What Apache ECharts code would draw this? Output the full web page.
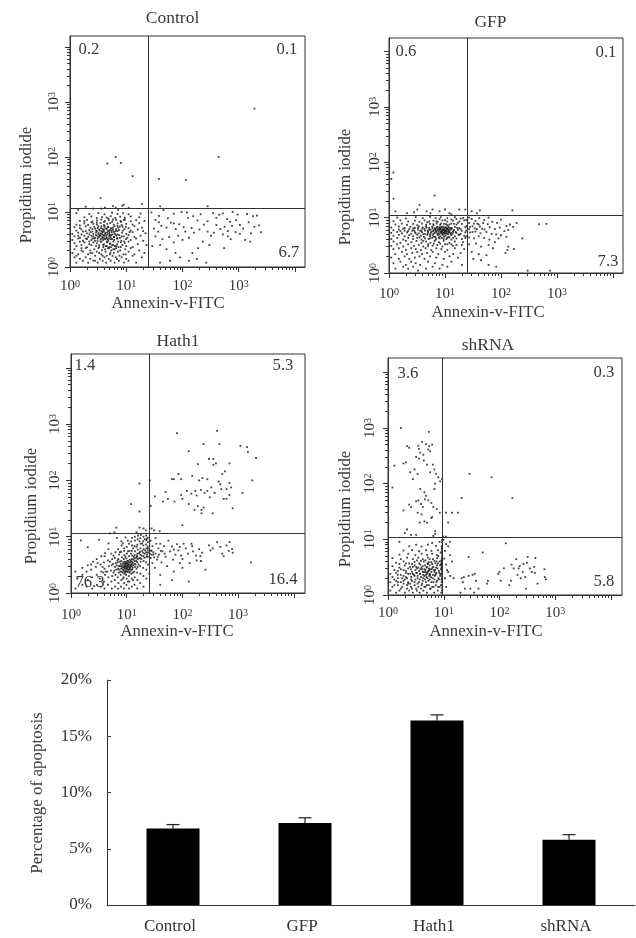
<!DOCTYPE html><html><head><meta charset="utf-8">
<style>html,body{margin:0;background:#fff}#c{width:636px;height:938px;filter:blur(.4px)}</style>
<script src="https://cdn.jsdelivr.net/npm/echarts@6/dist/echarts.min.js"></script></head><body><div id="c"></div>
<script>
const controlPoints=[[1.3,1.2],[1.7,1.3],[2.1,1.2],[2.6,1.3],[3.1,1.2],[3.8,1.3],[4.4,1.2],[5.3,1.3],[6.2,1.2],[7.4,1.3],[9.1,1.2],[11,1.3],[15,1.2],
[1.2,1.5],[1.5,1.4],[1.9,1.5],[2.3,1.4],[2.8,1.6],[3.4,1.4],[4.1,1.5],[4.9,1.4],[5.7,1.6],[6.8,1.4],[8.3,1.5],[10,1.4],[13,1.6],[19,1.5],
[1.1,1.8],[1.4,1.7],[1.7,1.9],[2.1,1.7],[2.5,1.8],[3,1.9],[3.6,1.7],[4.3,1.9],[5.1,1.7],[6,1.8],[7.1,1.9],[8.9,1.7],[11,1.9],[14,1.7],[21,1.8],
[1.2,2.1],[1.6,2],[1.9,2.2],[2.3,2],[2.7,2.1],[3.2,2.2],[3.7,2],[4.2,2.1],[4.7,2.2],[5.4,2],[5.9,2.1],[6.6,2.2],[7.8,2],[9.6,2.1],[12,2.2],[17,2],
[1.3,2.4],[1.6,2.5],[2,2.3],[2.4,2.5],[2.9,2.4],[3.3,2.3],[3.9,2.5],[4.5,2.4],[5,2.3],[5.6,2.5],[6.3,2.4],[7.3,2.3],[8.5,2.5],[10,2.4],[13,2.3],[23,2.5],
[1.2,2.7],[1.5,2.9],[1.8,2.8],[2.2,2.6],[2.6,2.8],[3,2.7],[3.5,2.9],[4,2.6],[4.6,2.8],[5.2,2.7],[5.9,2.9],[6.9,2.6],[8,2.8],[9.4,2.7],[11,2.9],[16,2.6],
[1.1,3.1],[1.4,3.3],[1.7,3],[2,3.2],[2.4,3.1],[2.7,3.3],[3.1,3],[3.5,3.2],[3.9,3.1],[4.4,3.3],[4.8,3],[5.3,3.2],[6.1,3.1],[7,3.3],[8.2,3],[9.9,3.2],[12,3.1],[15,3.3],[20,3],
[1.2,3.6],[1.5,3.4],[1.8,3.7],[2.1,3.5],[2.4,3.7],[2.8,3.4],[3.1,3.6],[3.4,3.8],[3.8,3.5],[4.1,3.7],[4.5,3.4],[4.9,3.6],[5.4,3.8],[6,3.5],[6.7,3.7],[7.7,3.4],[9,3.6],[11,3.8],[14,3.5],[18,3.7],
[1.1,4],[1.4,4.2],[1.6,3.9],[2,4.1],[2.3,4.3],[2.6,4],[2.9,4.2],[3.2,3.9],[3.5,4.1],[3.8,4.3],[4.2,4],[4.6,4.2],[5,4],[5.5,4.3],[6.2,4.1],[7,3.9],[8.4,4.2],[10,4],[13,4.3],[22,4.1],
[1.3,4.6],[1.6,4.8],[1.9,4.5],[2.2,4.7],[2.5,4.9],[2.9,4.6],[3.3,4.8],[3.7,4.5],[4,4.7],[4.5,4.9],[5,4.6],[5.8,4.8],[6.5,4.5],[7.5,4.7],[9.3,4.9],[12,4.6],[16,4.8],[20,4.5],
[1.2,5.3],[1.5,5.1],[1.9,5.5],[2.3,5.2],[2.7,5.4],[3.1,5.1],[3.6,5.5],[4.1,5.2],[4.7,5.4],[5.4,5.1],[6.2,5.5],[7.2,5.2],[8.6,5.4],[11,5.1],[14,5.5],[19,5.2],
[1.3,5.9],[1.8,6.2],[2.1,5.8],[2.6,6.1],[3,5.9],[3.5,6.3],[4,5.8],[4.6,6.1],[5.2,6.3],[6,5.9],[7,6.2],[8.3,5.8],[10,6.1],[13,5.9],[17,6.3],
[1.5,6.9],[2,7.2],[2.5,6.7],[3,7],[3.6,7.3],[4.2,6.8],[4.9,7.1],[5.6,6.7],[6.6,7.2],[7.9,6.9],[9.5,7.3],[12,6.8],[15,7.1],[21,6.9],
[1.8,8],[2.4,8.3],[3,7.8],[3.7,8.1],[4.5,7.9],[5.3,8.4],[6.4,7.8],[7.8,8.2],[9.4,7.9],[12,8.3],[17,8],
[1.3,9.5],[2.2,9.2],[3.2,9.6],[4.1,9.1],[5.6,9.7],[7,9.2],[8.8,9.5],[11,9.1],[18,9.4],
[1.4,11],[1.9,12.5],[3.6,11.5],[4.2,12],[5.8,12.8],[6.5,12],[8.5,13],[9,13.6],[11,12],[19,14],[6.5,100],[8,78],[4.6,76],[13,45],[3.5,18],[2.6,11.5],[7.2,11],
[28,9.8],[38,8.5],[46,10.8],[33,7.2],[55,7.7],[70,9.3],[96,10],[62,6.4],[42,5.6],[31,5],[37,4.4],[52,5.2],[76,4.9],[88,6],[105,5.3],[125,7.8],[155,8.4],[185,7],[145,5.1],[112,4.4],[84,3.7],[58,3.5],[44,3.2],[33,3.6],[29,2.4],[40,2.5],[52,2.1],[70,2.8],[100,3.1],[130,3.4],[160,4.2],[200,4.8],[240,5.9],[280,4.4],[320,3.7],[230,2.9],[190,2.2],[150,1.8],[130,1.3],[180,1.4],[90,1.5],[60,1.3],[40,1.2],[75,1.8],[300,2.5],[265,1.2],[350,9.5],[400,7.8],[450,8.9],[520,9.4],[620,7.4],[780,10],[950,9],[900,7.1],[700,6.6],[560,5.4],[470,4.9],[400,5.8],[360,4.2],[520,3.9],[640,4.5],[760,5.6],[880,4.3],[1050,5.8],[1200,5],[1400,9.2],[1800,8.4],[2100,8.6],[1500,6.5],[1900,5.4],[2300,5.7],[2500,4.3],[1650,4.1],[1300,3.1],[1050,4],[720,3.2],[640,3.6],[550,2.2],[1600,2.9],[280,6.8],[210,9.1],[120,9.8],[70,6.2],[38,6.5],
[38,40],[115,38],[440,100],[1900,760],[40,12.7],[280,12.7]];
const controlCore=[[1.4,3.7],[1.7,4.4],[1.9,3.3],[2.2,3.9],[2.2,2.9],[2.5,4.4],[2.5,3.3],[2.6,3.6],[2.8,5],[2.8,3],[2.9,3.8],[3,4.5],[3.1,3.3],[3.2,5.5],[3.2,4.2],[3.3,2.5],[3.3,3.5],[3.4,4.6],[3.5,3.7],[3.6,5.1],[3.6,2.9],[3.7,4],[3.7,3.3],[3.8,4.9],[3.9,3.8],[3.9,2.3],[4,4.4],[4,3.4],[4.1,5.6],[4.2,3.2],[4.3,4.2],[4.3,2.4],[4.4,3.7],[4.4,5],[4.5,2.9],[4.6,3.9],[4.7,4.5],[4.7,3.2],[4.8,5.3],[4.9,2.2],[5,3.3],[5,4.3],[5.1,3.8],[5.1,2.6],[5.2,4.8],[5.3,3.5],[5.4,2.3],[5.5,4.6],[5.6,3.2],[5.7,3.9],[5.8,5.2],[5.9,2.5],[6,4.4],[6.1,3.5],[6.2,2.1],[6.4,3.9],[6.6,4.9],[6.7,2.4],[6.8,3.3],[7,4.5],[7.2,2.9],[7.5,3.8],[7.7,5.4],[8,2.3],[8.3,3.6],[8.7,4.6],[9.2,2.9],[9.8,5.4],[10.5,3.4],[11.5,4.3],[1.3,1.6],[1.6,2.2],[1.5,5.7],[1.8,6.8],[2.3,1.8],[2.4,6.5],[2.8,1.3],[3,6.4],[3.3,1.8],[3.8,1.6],[4,6.6],[4.5,1.6],[4.8,7.6],[5.2,1.8],[5.8,7.3],[6.5,1.5],[7,5.6],[7.6,1.6],[8.1,6.6],[9,7.2],[9.8,1.7]];
const gfpPoints=[[1.3,1.2],[1.8,1.3],[2.2,1.2],[2.7,1.3],[3.3,1.1],[4.6,1.2],[6,1.3],[8,1.2],[11,1.3],[1.2,1.5],[1.6,1.6],[2,1.4],[2.5,1.6],[3,1.5],[3.6,1.4],[5,1.6],[6.6,1.5],[9,1.4],[13,1.6],[20,1.4],[1.1,1.9],[1.5,1.8],[1.9,2],[2.3,1.8],[2.9,1.9],[3.5,2],[4.3,1.8],[5.4,2],[7,1.9],[9.5,1.8],[12,2],[17,1.9],[1.3,2.2],[1.7,2.4],[2.1,2.2],[2.6,2.3],[3.2,2.4],[3.9,2.2],[4.8,2.3],[6,2.4],[7.6,2.2],[10,2.4],[14,2.2],[19,2.3],[1.2,2.7],[1.5,2.8],[2,2.6],[2.5,2.8],[3,2.7],[3.7,2.6],[4.5,2.8],[5.7,2.6],[7,2.8],[8.6,2.7],[11,2.6],[15,2.8],[22,2.7],[1.1,3.1],[1.4,3.3],[1.8,3],[2.2,3.3],[2.8,3.1],[3.4,3.2],[4.1,3],[5,3.3],[6,3.1],[7.3,3.2],[9,3],[11,3.3],[14,3.1],[20,3.2],[1.2,3.7],[1.6,3.5],[2,3.8],[2.5,3.6],[3.1,3.8],[3.8,3.5],[4.6,3.7],[5.5,3.5],[6.5,3.8],[7.8,3.6],[9.5,3.8],[12,3.5],[15,3.7],[21,3.6],[1.1,4.1],[1.4,4.3],[1.8,4],[2.2,4.3],[2.7,4.1],[3.2,4.3],[3.8,4],[4.4,4.2],[5.1,4.1],[5.9,4.3],[6.8,4],[8,4.2],[9.5,4.1],[11,4.3],[13,4],[16,4.2],[20,4.1],[23,4.3],[1.2,4.7],[1.5,4.9],[1.9,4.6],[2.3,4.8],[2.7,4.6],[3.2,4.9],[3.7,4.7],[4.2,4.5],[4.8,4.9],[5.4,4.6],[6,4.8],[6.7,4.5],[7.5,4.8],[8.3,4.6],[9.2,4.9],[10.2,4.7],[11.5,4.5],[13,4.8],[15,4.6],[18,4.9],[22,4.7],[1.1,5.3],[1.4,5.5],[1.7,5.2],[2.1,5.4],[2.5,5.1],[2.9,5.5],[3.4,5.2],[3.9,5.4],[4.4,5.1],[5,5.5],[5.6,5.3],[6.2,5.1],[6.9,5.5],[7.6,5.2],[8.3,5.4],[9,5.1],[9.8,5.5],[10.6,5.2],[11.5,5.4],[12.5,5.1],[14,5.5],[16,5.3],[19,5.1],[23,5.4],[1.2,5.9],[1.5,6.1],[1.9,5.8],[2.3,6.2],[2.8,5.9],[3.3,6.1],[3.8,5.7],[4.3,6.2],[4.9,5.8],[5.5,6.1],[6.1,5.7],[6.8,6.2],[7.4,5.9],[8,6.2],[8.7,5.7],[9.3,6],[10,5.8],[10.8,6.2],[11.6,5.9],[12.6,6.1],[14,5.7],[17,6],[20,5.8],[1.1,6.6],[1.5,6.9],[1.9,6.5],[2.4,6.8],[2.9,6.5],[3.4,6.9],[4,6.6],[4.6,6.9],[5.2,6.5],[5.9,6.8],[6.6,6.4],[7.3,6.8],[8.2,6.5],[9.1,6.9],[10.2,6.6],[11.5,6.9],[13,6.5],[15,6.8],[18,6.5],[23,6.7],[1.3,7.5],[1.7,7.8],[2.1,7.4],[2.7,7.7],[3.2,7.3],[3.9,7.8],[4.6,7.4],[5.4,7.7],[6.2,7.3],[7.1,7.8],[8.2,7.4],[9.6,7.7],[11,7.3],[13,7.8],[16,7.5],[20,7.7],[1.2,8.6],[1.6,8.9],[2.2,8.5],[2.9,8.8],[3.5,8.4],[4.3,8.9],[5.2,8.5],[6.2,8.8],[7.4,8.4],[9,8.9],[11,8.5],[14,8.8],[18,8.5],[22,8.9],[1.4,10],[2,9.7],[3,10.2],[4,9.8],[5.4,10.3],[6.8,9.8],[8.4,10.2],[11,9.8],[15,10.2],[21,9.9],
[1.3,13],[2.1,12],[2.8,12.5],[3.5,17],[3.2,14],[4.7,13],[6.5,25],[6,14],[5.5,12],[8,13],[10,14],[12,12],[13,11.5],[18,14],[23,14],[1.2,22],[1.2,65],[1.1,50],[30,13],[37,12],[42,13.5],[160,13.5],
[27,10],[30,9.4],[35,8.7],[41,9.8],[50,9],[60,10],[27,8],[33,7.8],[40,7.5],[48,8],[58,7.6],[70,8.4],[85,8],[100,9.2],[125,7],[145,7.5],[190,8],[28,6.8],[34,6.4],[42,6.9],[51,6.1],[63,6.7],[78,6.2],[95,6.6],[115,5.7],[135,6],[165,6.8],[28,5.4],[35,5.6],[43,5.2],[55,5.5],[68,5.1],[82,5],[100,4.8],[125,4.5],[240,4.2],[27,4.4],[33,4.2],[40,4.6],[50,4.3],[62,4],[78,3.6],[90,4.2],[27,3.3],[36,3.4],[44,3],[60,3.2],[72,2.8],[135,3],[130,2.6],[170,2.7],[30,2.4],[40,2.2],[55,2.1],[120,2.3],[32,1.8],[44,1.7],[60,1.4],[82,1.3],[480,7.6],[650,7.7],[300,1.1],[750,1.1]];
const gfpCore=[[5.7,5.6],[6,6.4],[6.3,5.9],[6.5,5.3],[6.7,6],[7,5.7],[7.1,6.6],[7.3,5.1],[7.5,6.2],[7.7,5.6],[7.9,6.7],[8,5],[8.1,5.9],[8.4,6.3],[8.5,5.5],[8.6,6.8],[8.8,5.2],[8.9,6],[9,5.6],[9.2,6.4],[9.4,5.3],[9.5,5.9],[9.7,6.6],[9.9,5.1],[10,6.1],[10.2,5.5],[10.3,6.7],[10.5,5.8],[10.7,5.1],[10.9,6.4],[11,5.6],[11.2,6.1],[11.4,5],[11.6,6.5],[11.8,5.5],[12.1,5.8],[12.4,6.5],[12.8,5.3],[13.2,6.3],[13.6,5.1],[14.5,6],[15.5,5.5],[16.5,6.5],[17.5,4.9],[19,6.2],[3,5.2],[3.3,6.5],[3.6,5.8],[3.9,6.3],[4.1,5],[4.4,5.8],[4.7,6.6],[5,5.2],[5.2,6],[5.4,4.9],[1.6,5.7],[1.8,6.3],[2.2,5.7],[2.6,5.8],[2.7,6.4],[3.5,4.4],[4.1,3.8],[5.4,4.2],[6.3,4.5],[7,4.2],[7.8,4.4],[8.8,4.3],[9.7,4.5],[10.6,4.1],[12,4.4],[14,4.3],[5,3.1],[6.3,3.4],[8.2,3.4],[10,3.3],[13,3.3],[16,3.2],[6.2,7.6],[8.5,7.8],[10.4,7.6],[12,7.5],[14.5,7.7],[17,8],[4.8,8.2],[7,8.6],[8,9.4],[10,9],[13,9.2],[16,9.4],[19,9.6],[24,9],[24,7],[24,5.8],[24,4.6],[27,6.2],[31,7],[37,6.2],[46,6.3],[38,7.8],[31,5.5]];
const hathPoints=[[1.2,1.2],[1.3,1.8],[1.2,2.4],[1.6,1.4],[1.6,2.1],[1.6,2.8],[1.9,1.3],[2,1.7],[1.9,2.4],[2,3.1],[2.4,1.2],[2.4,1.9],[2.3,2.6],[2.5,3.6],[2.9,1.4],[2.9,2.1],[2.8,2.9],[2.9,4],[3.4,1.3],[3.3,1.8],[3.5,2.4],[3.4,3.2],[3.5,4.5],[4,1.2],[3.9,1.6],[4.1,2.1],[4,2.7],[3.9,3.5],[4.1,5.1],[4.6,1.4],[4.7,1.9],[4.5,2.4],[4.8,3],[4.6,3.8],[4.7,6],[5.4,1.2],[5.3,1.6],[5.5,2],[5.2,2.5],[5.4,3.1],[5.5,4],[5.3,5],[6.2,1.3],[6.1,1.7],[6.3,2.1],[6,2.5],[6.2,2.9],[6.4,3.4],[6.1,4.2],[6.3,5.3],[7,1.2],[7.1,1.5],[6.9,1.9],[7.2,2.3],[7,2.7],[7.2,3],[6.9,3.5],[7.1,4],[7.3,4.8],[7,6],[7.9,1.3],[8,1.7],[7.8,2.1],[8.1,2.4],[7.9,2.7],[8.1,3],[7.8,3.3],[8,3.7],[8.2,4.3],[7.9,5.4],[8.1,7],[8.9,1.2],[9,1.5],[8.8,1.9],[9.1,2.2],[8.9,2.5],[9.1,2.8],[8.8,3],[9,3.3],[9.2,3.6],[8.9,4],[9.1,4.7],[9,6.2],[9.9,1.4],[10,1.8],[9.8,2.1],[10.1,2.4],[9.9,2.7],[10.1,2.9],[9.8,3.1],[10,3.4],[10.2,3.7],[9.9,4.1],[10.1,5],[10,6.6],[11,1.2],[11.1,1.6],[10.9,2],[11.2,2.3],[11,2.6],[11.2,2.9],[10.9,3.2],[11.1,3.5],[11.3,3.9],[11,4.5],[11.2,5.6],[11,7.5],[12.3,1.3],[12.4,1.8],[12.2,2.2],[12.5,2.6],[12.3,3],[12.5,3.3],[12.2,3.6],[12.4,4],[12.6,4.6],[12.3,5.6],[12.5,7],[13.8,1.4],[13.9,1.9],[13.7,2.4],[14,2.9],[13.8,3.3],[14,3.7],[13.7,4.1],[13.9,4.7],[14.1,5.5],[13.8,6.8],[14,8.5],[15.5,1.2],[15.6,1.7],[15.4,2.3],[15.7,2.9],[15.5,3.5],[15.7,4],[15.4,4.4],[15.6,5],[15.8,5.9],[15.5,7.2],[15.7,9],[17.5,1.5],[17.6,2.2],[17.4,3],[17.7,3.6],[17.5,4.2],[17.7,4.8],[17.4,5.4],[17.6,6.2],[17.8,7.5],[17.5,9.4],[20,1.3],[20,2],[19.8,2.8],[20.1,3.7],[20,4.5],[19.8,5.2],[20.1,6],[20,7],[19.8,8.3],[20,10],[22.5,1.8],[22.5,2.6],[22.3,3.5],[22.6,4.4],[22.4,5.3],[22.6,6.2],[22.3,7.3],[22.5,8.7],[22.3,10.5],[24,3.2],[24,4.4],[24,5.2],[24,5.7],[23.8,6.7],[24,8],[24,9.6],[2,6.5],[3.2,8.8],[4.7,7.6],[6.7,9.5],[8,8.3],[9.5,9.7],[12.5,9.5],[1.5,8.6],
[6.5,14.5],[17,14.5],[20,14],[22,13],[15,12],[6,12],[17,88],[12,38],[17,28],[5,11.5],
[27,8.5],[29,6.8],[27,5.6],[28,4.8],[30,5.3],[31,4.3],[29,3.4],[32,2.8],[35,3.9],[37,6.2],[33,9.5],[38,4.8],[40,7.5],[42,3.5],[44,5.5],[47,6.8],[50,4.4],[53,3],[56,8.5],[60,5.5],[65,6.7],[68,3.9],[75,4.8],[80,7.4],[85,5.7],[90,3.4],[95,4.6],[105,7.5],[115,6.2],[125,5],[135,3.4],[145,7.5],[155,5.5],[175,4.6],[200,6],[210,4.5],[215,3.7],[225,5.2],[260,2.6],[300,7],[320,5.7],[350,6.2],[420,8],[480,6.6],[520,5],[550,4.5],[620,7],[680,5.6],[700,8],[780,6],[800,5.2],[1700,3.5],[40,1.4],[65,1.7],[130,1.6],[40,2.1],[70,2.4],[100,2.8],[25.5,2.2],[100,4],[180,3.8],[34,7.5],[48,5],[70,5.9],[150,6.8],[90,6.6],
[28,14],[31,13],[39,12.5],[100,16],[27,35],[26,100],[32,52],[45,42],[55,47],[50,62],[72,42],[95,55],[100,47],[120,65],[130,38],[145,58],[165,30],[190,35],[220,30],[240,33],[220,26],[170,65],[180,54],[215,68],[250,60],[280,65],[310,50],[350,26],[380,60],[450,95],[500,70],[550,47],[620,47],[700,55],[620,70],[800,32],[1200,60],[65,105],[70,105],[85,130],[95,105],[150,120],[200,100],[230,110],[280,105],[330,75],[360,190],[400,200],[480,85],[520,130],[580,145],[700,90],[750,75],[1100,410],[1450,390],[1500,320],[2100,250],[1800,100],[80,690],[420,760],[240,440],[460,440],[130,330],[190,195],[300,240],[360,240],[700,200]];
const hathCore=[[7.3,2.6],[7.6,3],[7.7,2.4],[8.3,2.8],[8.4,3.2],[8.5,2.3],[8.6,3.5],[8.6,2.6],[8.9,2.9],[9.3,2.4],[9.3,3.1],[9.4,2.7],[9.5,3.5],[9.6,2.9],[9.6,3.3],[9.7,2.5],[10.3,2.7],[10.3,3.1],[10.4,3.4],[10.5,2.4],[10.6,2.9],[10.6,3.7],[10.7,2.6],[10.7,3.2],[11.4,2.7],[11.5,3.1],[11.6,2.4],[11.6,3.5],[11.7,2.9],[11.8,3.8],[12,2.6],[12,3.2],[12.8,2.8],[12.9,3.5],[13,2.3],[13.1,3.1],[13.2,3.9],[13.4,4.4],[14.4,3.2],[14.6,4.2],[15,2.7],[15,3.7],[15.2,4.6],[16.3,3.2],[16.5,4.1],[16.7,5.1],[18.3,4],[18.6,4.6],[19,5.6],[20.8,4.2],[21,5],[21.5,5.7],[23,4.8],[24,6.2],[26,5],[27,4.2],[28,5.7],[30,4.8],[33,5],[36,4.4],[41,5.6],[5.8,2.3],[5.7,3.3],[6.5,2.6],[6.6,3.1],[6.8,3.8],[7.5,3.6],[4.2,2.4],[3.7,2.9],[5,3.6],[5.8,4.6],[7.5,5.3],[9.5,4.4],[10.5,5.5],[12,5],[13,6.2],[15,6.6],[17,8.3],[19,7.6],[21,9],[23,9.2],[9,5.6],[8.5,7.6],[10.5,8.5],[12,8.2],[14,10],[16,10.5],[18,10.8],[8.5,1.8],[10.5,1.6],[13,1.7],[9.5,2.3],[4,4.5],[3,3.4],[2.3,3.2],[3.8,2.3]];
const shrnaPoints=[[1.1,1.2],[1.4,1.1],[1.7,1.3],[2,1.1],[2.4,1.2],[2.8,1.1],[3.2,1.3],[3.7,1.1],[4.3,1.2],[5,1.1],[5.8,1.3],[6.7,1.1],[7.8,1.2],[9,1.1],[1.2,1.4],[1.5,1.5],[1.8,1.4],[2.2,1.5],[2.6,1.4],[3,1.5],[3.5,1.4],[4,1.5],[4.7,1.4],[5.4,1.5],[6.2,1.4],[7.2,1.5],[8.4,1.4],[9.3,1.5],[1.1,1.7],[1.4,1.8],[1.7,1.7],[2,1.9],[2.3,1.7],[2.7,1.8],[3.1,1.9],[3.6,1.7],[4.2,1.8],[4.8,1.7],[5.6,1.9],[6.5,1.7],[7.6,1.8],[9.2,1.7],[1.2,2.1],[1.5,2],[1.9,2.2],[2.2,2],[2.6,2.1],[3,2.2],[3.4,2],[3.9,2.1],[4.5,2.2],[5.1,2],[5.9,2.1],[6.9,2.2],[8,2],[9.3,2.1],[1.1,2.4],[1.4,2.5],[1.7,2.3],[2.1,2.5],[2.5,2.4],[2.9,2.3],[3.3,2.5],[3.8,2.4],[4.3,2.3],[4.9,2.5],[5.6,2.4],[6.4,2.3],[7.4,2.5],[8.7,2.4],[9.3,2.6],[1.3,2.8],[1.7,2.9],[2.1,2.7],[2.6,2.9],[3.1,2.8],[3.6,2.7],[4.1,2.9],[4.7,2.8],[5.3,2.7],[6.1,2.9],[7,2.8],[8.2,2.7],[9.3,3],[1.2,3.3],[1.6,3.1],[2,3.4],[2.5,3.2],[3,3.4],[3.5,3.1],[4.2,3.3],[4.9,3.1],[5.6,3.4],[6.5,3.2],[7.6,3.4],[9.1,3.1],[1.4,3.8],[1.9,4],[2.4,3.7],[3,3.9],[3.6,3.7],[4.4,4],[5.1,3.7],[6,3.9],[7.1,3.7],[8.4,4],[9.3,3.8],[1.2,4.6],[1.7,4.4],[2.2,4.7],[2.8,4.4],[3.5,4.7],[4.2,4.4],[5.2,4.7],[6.4,4.4],[7.6,4.6],[9.2,4.4],[1.6,5.3],[2.3,5.5],[3.1,5.2],[4,5.5],[5,5.2],[6.2,5.5],[7.5,5.2],[9.3,5.4],[1.9,6.3],[2.7,6.4],[3.6,6.1],[4.8,6.4],[6,6.2],[7.9,6.4],[9.3,6.3],[1.6,9],[2.4,7.5],[3.2,8],[4,7.4],[5.2,8],[6.2,8.6],[7.3,7.6],[8.4,9],[9.3,7.6],[9.3,8.8],[9.3,9.6],[6.5,11.5],[7,12.5],[3.2,3.2],[3.8,3.5],[4.7,2.6],[5.1,2.4],[5.4,3],[2.3,1.6],[2.6,1.9],[3.4,1.6],[4.4,2.6],[5.2,3.6],[5.7,2.9],[6.8,2.6],[7.3,3.1],[8.8,3.5],[1.5,2.3],[1.9,1.6],[2.8,2.4],[4,3.1],
[1.7,1000],[5.4,850],[4.1,560],[4.8,510],[5.5,470],[6.2,500],[3.5,480],[2.2,470],[2.4,440],[3.6,420],[3.8,360],[4.3,330],[5.3,410],[5.7,380],[1.9,230],[2.1,240],[3.2,300],[3.6,280],[4.4,260],[6.4,220],[6.8,180],[2.5,160],[3,180],[3.4,150],[5.7,160],[7.3,150],[8,130],[7,100],[8.6,110],[6.8,80],[1.2,85],[2.8,120],[3.8,80],[4.5,70],[4.8,60],[5.3,50],[6,45],[3.5,50],[3.2,48],[4.2,38],[2.4,42],[2.6,38],[1.9,33],[6.5,38],[7.5,35],[4,28],[3.4,30],[6.2,25],[6,24],[3.7,20],[4.5,21],[5,20],[2.2,15],[2,13],[2.6,12],[3.2,12],[7,14],[8.5,30],[9.3,120],[1.3,210],[5,220],[3.9,43],[4.6,52],
[11,30],[14,30],[18,30],[12,20],[21,55],[29,150],[72,130],[170,55],[9.8,11.2],[11,11.2],
[9.9,9.8],[11,8.2],[12,7.5],[13,9],[10.5,6.2],[13,5.2],[14,4],[10.2,4.5],[11,3.5],[11.5,2.8],[12,2.6],[13,2.2],[15,2],[10.5,2],[11,1.4],[21,2],[22,1.7],[23,2.1],[28,2.2],[24,1.3],[20,1.1],[33,2.3],[36,2.4],[38,1.8],[30,1.3],[35,1.1],[42,1.3],[28,4.8],[60,1.6],[62,1.8],[50,5.8],[130,8.5],[95,2.4],[100,2.6],[105,1.8],[150,1.5],[165,3.5],[160,1.8],[200,4.4],[220,3],[230,3.3],[260,2.6],[300,1.3],[320,4.8],[350,3],[380,2.6],[210,2.3],[240,2],[290,2.1],[310,3.8],[420,3.2],[440,4.6],[480,1.6],[640,2.9],[680,1.9],[650,2.1],[180,3],[270,3.6],[430,2.5],[120,3]];
const shrnaCore=[[1.3,1.5],[1.6,1.2],[1.9,1.8],[2.2,1.3],[2.1,2.1],[1.8,2],[1.3,1.9],[1.5,1.7],[2.5,1.6],[2.7,1.3],[3,1.7],[3.3,1.2],[3.4,2.2],[3.7,1.9],[3.9,1.3],[4.1,1.6],[4.3,2],[4.5,1.4],[4.6,1.9],[4.9,2.1],[5,1.5],[5.3,1.8],[5.5,2.2],[5.7,1.3],[6,1.7],[6.3,2],[6.6,1.4],[6.8,1.9],[7.1,2.3],[7.4,1.7],[7.9,1.4],[8.2,1.9],[8.6,2.2],[8.9,1.5],[2.3,2.4],[2.7,2.6],[3.2,2.5],[3.7,2.4],[4.2,2.6],[4.5,2.9],[4.8,2.3],[5,3.2],[5.2,2.6],[5.5,2.8],[5.7,2.3],[6,2.6],[6.3,3.1],[6.7,2.8],[7.2,2.4],[7.7,3],[8.3,2.5],[8.9,2.9],[1.5,2.7],[1.9,2.8],[2.3,3],[2.8,3.2],[3.3,3],[3.8,2.9],[4.6,3.4],[5.4,3.9],[6.2,3.6],[6.8,4.1],[7.4,4],[7.9,3.7],[8.6,3.4],[9,4.1],[1.6,3.6],[2.1,3.7],[2.7,3.6],[3.3,4.2],[3.9,4.1],[4.7,4.2],[5.6,4.4],[8,5],[8.8,5.8],[9.3,1.2],[9.3,1.35],[9.3,1.7],[9.3,1.9],[9.3,2.3],[9.3,2.8],[9.3,3.3],[9.3,3.5],[9.3,4.1],[9.3,4.6],[9.3,5],[9.3,5.8],[9.3,6.8],[9.3,7.2],[9.1,1.9],[9.1,2.4],[9.1,3.7]];
const categories=['Control','GFP','Hath1','shRNA'];
const apoptosis=[6.8,7.3,16.4,5.8];
const errorTop=[7.15,7.75,16.9,6.25];
const decades=[1,10,100,1000,10000];
const labelDecades=[1,10,100,1000];
const minorTicks=[2,3,4,5,6,7,8,9,20,30,40,50,60,70,80,90,200,300,400,500,600,700,800,900,2000,3000,4000,5000,6000,7000,8000,9000];
const panels=[
{name:'Control',pts:controlPoints.concat(controlCore),gate:[25,11.8],q:[['0.2',89,50],['0.1',287,50],['6.7',289,253]],box:[70,36,305,267],dx:56.25,dy:55,t:[172.5,18],xn:[168,304],yn:[27,185],xm:12,ym:8},
{name:'GFP',pts:gfpPoints.concat(gfpCore),gate:[24.7,10.8],q:[['0.6',406,52],['0.1',606,53],['7.3',608,262]],box:[389,38,623,273],dx:56,dy:55.4,t:[490.5,22],xn:[488,313],yn:[346,187],xm:14,ym:6},
{name:'Hath1',pts:hathPoints.concat(hathCore),gate:[25,11.6],q:[['1.4',85,366],['5.3',283,366],['16.4',283,580],['76.3',90,583]],box:[71,354,305,593],dx:55.7,dy:56.3,t:[178,341],xn:[177,632],yn:[32,506],xm:15,ym:8},
{name:'shRNA',pts:shrnaPoints.concat(shrnaCore),gate:[9.3,10.7],q:[['3.6',408,374],['0.3',604,373],['5.8',604,582]],box:[388,358,622,595],dx:55.75,dy:55.7,t:[488,345],xn:[486,632],yn:[346,509],xm:11,ym:10}];
const ink='#333',F='"Liberation Serif"';
const grid=[],xAxis=[],yAxis=[],series=[],graphic=[];
const rich={b:{fontFamily:F,fontSize:15,color:ink},s:{fontFamily:F,fontSize:10,color:ink,verticalAlign:'top',lineHeight:14}};
const lab=v=>'{b|10}{s|'+Math.round(Math.log10(v))+'}';
const txt=(s,x,y,rot,size)=>graphic.push({type:'text',x,y,rotation:rot||0,style:{text:s,fill:'#3a3a3a',font:(size||16.7)+'px '+F,align:'center',verticalAlign:'middle'},silent:true});
panels.forEach((p,i)=>{
 const [l,t,r,b]=p.box,w=r-l,h=b-t;
 grid.push({left:l,top:t,width:w,height:h,show:true,borderColor:ink,borderWidth:1,backgroundColor:'transparent'});
 const xmax=Math.pow(10,w/p.dx),ymax=Math.pow(10,h/p.dy);
 const common={type:'log',logBase:10,min:1,gridIndex:i,splitLine:{show:false},minorTick:{show:false}};
 xAxis.push({...common,max:xmax,position:'bottom',axisLine:{lineStyle:{color:ink}},axisTick:{length:5,lineStyle:{color:ink},customValues:decades},axisLabel:{margin:p.xm,customValues:labelDecades,formatter:lab,rich}});
 xAxis.push({...common,max:xmax,position:'bottom',axisLine:{show:false},axisTick:{length:3,lineStyle:{color:ink},customValues:minorTicks},axisLabel:{show:false}});
 yAxis.push({...common,max:ymax,position:'left',axisLine:{lineStyle:{color:ink}},axisTick:{length:5,lineStyle:{color:ink},customValues:decades},axisLabel:{margin:p.ym,rotate:90,customValues:labelDecades,formatter:lab,rich}});
 yAxis.push({...common,max:ymax,position:'left',axisLine:{show:false},axisTick:{length:3,lineStyle:{color:ink},customValues:minorTicks},axisLabel:{show:false}});
 series.push({type:'scatter',xAxisIndex:i*2,yAxisIndex:i*2,data:p.pts,symbol:'rect',symbolSize:1.8,itemStyle:{color:'#111'},silent:true,
  markLine:{silent:true,symbol:'none',label:{show:false},lineStyle:{color:ink,width:1,type:'solid'},data:[{xAxis:p.gate[0]},{yAxis:p.gate[1]}]}});
 txt(p.name,p.t[0],p.t[1],0,17.5);txt('Annexin-v-FITC',p.xn[0],p.xn[1]);txt('Propidium iodide',p.yn[0],p.yn[1],Math.PI/2);
 p.q.forEach(q=>txt(q[0],q[1],q[2]));
});
grid.push({left:107,top:680,width:528,height:225});
xAxis.push({type:'category',gridIndex:4,data:categories,axisLine:{lineStyle:{color:ink}},axisTick:{inside:true,length:5,lineStyle:{color:ink}},axisLabel:{fontFamily:F,fontSize:17,color:ink,margin:13,padding:[0,6,0,0]}});
yAxis.push({type:'value',gridIndex:4,min:0,max:20,interval:5,splitLine:{show:false},axisLine:{show:true,lineStyle:{color:ink}},axisTick:{show:true,inside:true,length:4,lineStyle:{color:ink}},axisLabel:{fontFamily:F,fontSize:17,color:ink,margin:15,formatter:'{value}%'}});
series.push({type:'bar',xAxisIndex:8,yAxisIndex:8,data:apoptosis,barWidth:53,itemStyle:{color:'#000'},silent:true});
series.push({type:'custom',xAxisIndex:8,yAxisIndex:8,silent:true,data:categories.map((c,i)=>[i,apoptosis[i],errorTop[i]]),encode:{x:0,y:[1,2]},
 renderItem(params,api){const a=api.coord([api.value(0),api.value(1)]),b=api.coord([api.value(0),api.value(2)]);
  const st={stroke:'#222',lineWidth:1.2,fill:null};
  return {type:'group',children:[{type:'line',shape:{x1:a[0],y1:a[1],x2:b[0],y2:b[1]},style:st},{type:'line',shape:{x1:b[0]-6.5,y1:b[1],x2:b[0]+6.5,y2:b[1]},style:st}]};}});
txt('Percentage of apoptosis',37.5,793,Math.PI/2,17);
echarts.init(document.getElementById('c'),null,{renderer:'canvas'}).setOption({animation:false,grid,xAxis,yAxis,series,graphic:{elements:graphic}});
</script></body></html>
